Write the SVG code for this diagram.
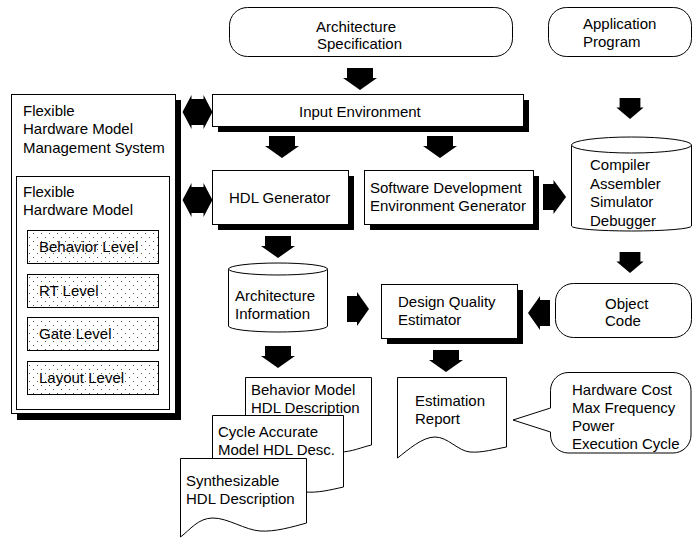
<svg xmlns="http://www.w3.org/2000/svg" width="693" height="538" viewBox="0 0 693 538">
<style>
text{font-family:"Liberation Sans",Arial,sans-serif;font-size:15px;fill:#000}
.b{fill:#fff;stroke:#000;stroke-width:1}
.sh{fill:#000}
.dot{fill:url(#dots);stroke:#000;stroke-width:1}
.ar{fill:#000}
</style>
<defs>
<pattern id="dots" patternUnits="userSpaceOnUse" width="8" height="8">
<rect width="8" height="8" fill="#fff"/>
<rect x="1" y="1" width="1" height="1" fill="#555"/>
<rect x="5" y="5" width="1" height="1" fill="#555"/>
</pattern>
<path id="ad" d="M-13,0 H13 V10 H17 L0,22 L-17,10 H-13 Z"/>
<path id="dbl" d="M-15,0 L-6,-17 V-13 H6 V-17 L15,0 L6,17 V13 H-6 V17 Z"/>
</defs>

<g id="connectors" class="ar">
<use href="#ad" transform="translate(360,68)"/>
<use href="#ad" transform="translate(282,136)"/>
<use href="#ad" transform="translate(440,136)"/>
<use href="#ad" transform="translate(630,98) scale(0.8,0.95)"/>
<use href="#ad" transform="translate(630,252) scale(0.8,0.95)"/>
<use href="#ad" transform="translate(278,236)"/>
<use href="#ad" transform="translate(278,346)"/>
<use href="#ad" transform="translate(446,350)"/>
<use href="#ad" transform="translate(543,197) rotate(-90) scale(1,1.05)"/>
<use href="#ad" transform="translate(347,309) rotate(-90)"/>
<use href="#ad" transform="translate(550,313) rotate(90)"/>
<use href="#dbl" transform="translate(197.5,112)"/>
<use href="#dbl" transform="translate(197.5,200)"/>
</g>

<g id="arch-spec">
<rect class="b" x="229.5" y="7.5" width="283" height="49" rx="18"/>
<text x="316" y="32">Architecture</text>
<text x="317" y="49">Specification</text>
</g>

<g id="app-program">
<rect class="b" x="548.5" y="7.5" width="143" height="49" rx="18"/>
<text x="583" y="29">Application</text>
<text x="583" y="47">Program</text>
</g>

<g id="fhmms">
<rect class="sh" x="17" y="100" width="164" height="320"/>
<rect class="b" x="11.5" y="94.5" width="164" height="319"/>
<text x="23" y="116">Flexible</text>
<text x="23" y="134">Hardware Model</text>
<text x="23" y="153">Management System</text>
</g>

<g id="fhm">
<rect class="b" x="16.5" y="176.5" width="153" height="233"/>
<text x="23" y="197">Flexible</text>
<text x="23" y="215">Hardware Model</text>
</g>

<g id="behavior-level">
<rect class="dot" x="27.5" y="230.5" width="131" height="33"/>
<text x="39" y="252">Behavior Level</text>
</g>
<g id="rt-level">
<rect class="dot" x="27.5" y="274.5" width="131" height="33"/>
<text x="39" y="296">RT Level</text>
</g>
<g id="gate-level">
<rect class="dot" x="27.5" y="317.5" width="131" height="33"/>
<text x="39" y="339">Gate Level</text>
</g>
<g id="layout-level">
<rect class="dot" x="27.5" y="361.5" width="131" height="33"/>
<text x="39" y="383">Layout Level</text>
</g>

<g id="input-env">
<rect class="sh" x="218" y="100" width="311" height="32"/>
<rect class="b" x="212.5" y="94.5" width="311" height="32"/>
<text x="299" y="117">Input Environment</text>
</g>

<g id="hdl-gen">
<rect class="sh" x="218" y="176" width="136" height="54"/>
<rect class="b" x="212.5" y="170.5" width="136" height="54"/>
<text x="229" y="203">HDL Generator</text>
</g>

<g id="sde-gen">
<rect class="sh" x="370" y="176" width="169" height="54"/>
<rect class="b" x="364.5" y="170.5" width="169" height="54"/>
<text x="370" y="193">Software Development</text>
<text x="370" y="211">Environment Generator</text>
</g>

<g id="compiler">
<path class="b" d="M571.5,145 V226 A60,5 0 0 0 691.5,226 V145 Z"/>
<ellipse class="b" cx="631.5" cy="145" rx="60" ry="8"/>
<text x="590" y="170">Compiler</text>
<text x="590" y="189">Assembler</text>
<text x="590" y="207">Simulator</text>
<text x="590" y="226">Debugger</text>
</g>

<g id="arch-info">
<path class="b" d="M228.5,269 V326 A49.5,6 0 0 0 327.5,326 V269 Z"/>
<ellipse class="b" cx="278" cy="269" rx="49.5" ry="6"/>
<text x="235" y="301">Architecture</text>
<text x="235" y="319">Information</text>
</g>

<g id="dqe">
<rect class="sh" x="387" y="290" width="136" height="54"/>
<rect class="b" x="381.5" y="284.5" width="136" height="54"/>
<text x="398" y="307">Design Quality</text>
<text x="398" y="325">Estimator</text>
</g>

<g id="object-code">
<rect class="b" x="555.5" y="283.5" width="136" height="54" rx="18"/>
<text x="605" y="309">Object</text>
<text x="605" y="326">Code</text>
</g>

<g id="estimation-report">
<path class="b" d="M397.5,377.5 H506.5 V447 C495,449 482,453 470,452 S448,437 435,437 S408,450 397.5,458 Z"/>
<text x="415" y="406">Estimation</text>
<text x="415" y="424">Report</text>
</g>

<g id="callout">
<path class="b" d="M568,372.5 H673 A18,18 0 0 1 691,390.5 V435 A18,18 0 0 1 673,453 H568 A18,18 0 0 1 550.5,435 V432 L513,420 L550.5,408 V390.5 A18,18 0 0 1 568,372.5 Z"/>
<text x="572" y="395">Hardware Cost</text>
<text x="572" y="413">Max Frequency</text>
<text x="572" y="431">Power</text>
<text x="572" y="449">Execution Cycle</text>
</g>

<g id="behavior-model-doc">
<path class="b" d="M245.5,377.5 H371.5 V445 C362,447 352,452 340,452 S305,438 290,438 S258,450 245.5,457 Z"/>
<text x="251" y="395">Behavior Model</text>
<text x="251" y="413">HDL Description</text>
</g>

<g id="cycle-accurate-doc">
<path class="b" d="M212.5,415.5 H343.5 V487 C330,490 318,493 305,492 S270,478 255,478 S225,490 212.5,497 Z"/>
<text x="218" y="437">Cycle Accurate</text>
<text x="218" y="455">Model HDL Desc.</text>
</g>

<g id="synth-doc">
<path class="b" d="M180.5,458.5 H306.5 V523 C292,527 275,532 260,531 S228,518 213,518 S190,530 180.5,537 Z"/>
<text x="186" y="486">Synthesizable</text>
<text x="186" y="504">HDL Description</text>
</g>
</svg>
